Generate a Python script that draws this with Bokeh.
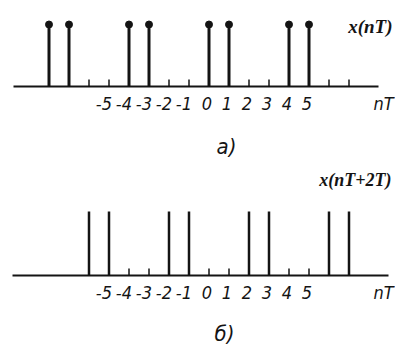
from bokeh.plotting import figure
from bokeh.layouts import column
from bokeh.models import Range1d
from bokeh.core.properties import value
from bokeh.embed import file_html
from bokeh.resources import INLINE

# Sample indices and sample values of the pulse train x(nT)
n_a = list(range(-8, 8))
x_a = [1, 1, 0, 0, 1, 1, 0, 0, 1, 1, 0, 0, 1, 1, 0, 0]

# The same train advanced by two samples: x(nT+2T)
n_b = list(range(-6, 8))
x_b = [1, 1, 0, 0, 1, 1, 0, 0, 1, 1, 0, 0, 1, 1]

# Labelled sample positions along the time axis
tick_pos = [-5, -4, -3, -2, -1, 0, 1, 2, 3, 4, 5]
tick_text = ["-5", "-4", "-3", "-2", "-1", "0", "1", "2", "3", "4", "5"]

W = 395
PX = 20.0          # pixels per sample step
X0 = 208.5         # pixel position of n = 0
LABEL_FONT = value("DejaVu Sans Condensed, Liberation Sans, sans-serif")
TITLE_FONT = value("Liberation Serif, DejaVu Serif, serif")
INK = "#141414"


def px(xpix):
    return (xpix - X0) / PX


def panel(height, axis_px, unit_px, n, x, stem_w, dots, axis_from, axis_to,
          name, name_x, name_y, name_size, caption, cap_x, cap_y):
    def py(ypix):
        return (axis_px - ypix) / unit_px

    p = figure(width=W, height=height, output_backend="svg", toolbar_location=None,
               x_range=Range1d(px(0), px(W)), y_range=Range1d(py(height), py(0)),
               min_border=0, outline_line_color=None, background_fill_color="white",
               border_fill_color="white")
    p.axis.visible = False
    p.grid.visible = False

    # time axis
    p.segment(x0=[px(axis_from)], y0=[0], x1=[px(axis_to)], y1=[0],
              line_color=INK, line_width=2)

    # pulses and the zero-valued samples shown as short marks
    sn = [k for k, v in zip(n, x) if v > 0]
    sv = [v for v in x if v > 0]
    zn = [k for k, v in zip(n, x) if v == 0]
    p.segment(x0=sn, y0=[0] * len(sn), x1=sn, y1=sv, line_color=INK,
              line_width=stem_w)
    if dots:
        p.scatter(x=sn, y=sv, size=7, color=INK)
    tick_h = 7.0 / unit_px
    p.segment(x0=zn, y0=[0] * len(zn), x1=zn, y1=[tick_h] * len(zn),
              line_color=INK, line_width=1.5)

    # sample numbers
    p.text(x=tick_pos, y=[py(axis_px + 17)] * len(tick_pos), text=tick_text,
           text_font=LABEL_FONT, text_font_style="italic", text_font_size="18px",
           text_align="right", text_baseline="middle", x_offset=3,
           text_color=INK)
    p.text(x=[px(383)], y=[py(axis_px + 17)], text=["nT"],
           text_font=LABEL_FONT, text_font_style="italic", text_font_size="18px",
           text_align="center", text_baseline="middle", text_color=INK)

    # signal name and panel caption
    p.text(x=[px(name_x)], y=[py(name_y)], text=[name], text_font=TITLE_FONT,
           text_font_style="bold italic", text_font_size=name_size,
           text_align="right", text_baseline="middle", text_color=INK)
    p.text(x=[px(cap_x)], y=[py(cap_y)], text=[caption], text_font=LABEL_FONT,
           text_font_style="italic", text_font_size="22px",
           text_align="center", text_baseline="middle", text_color=INK)
    return p


top = panel(170, 86, 62.0, n_a, x_a, 3, True, 13, 378,
            "x(nT)", 392, 26, "19px", "а)", 226, 146)
bottom = panel(179, 105, 64.0, n_b, x_b, 2.5, False, 12, 388,
               "x(nT+2T)", 391, 9, "18px", "б)", 224, 163)

layout = column(top, bottom, spacing=0)
open("out.html", "w").write(file_html(layout, INLINE))
